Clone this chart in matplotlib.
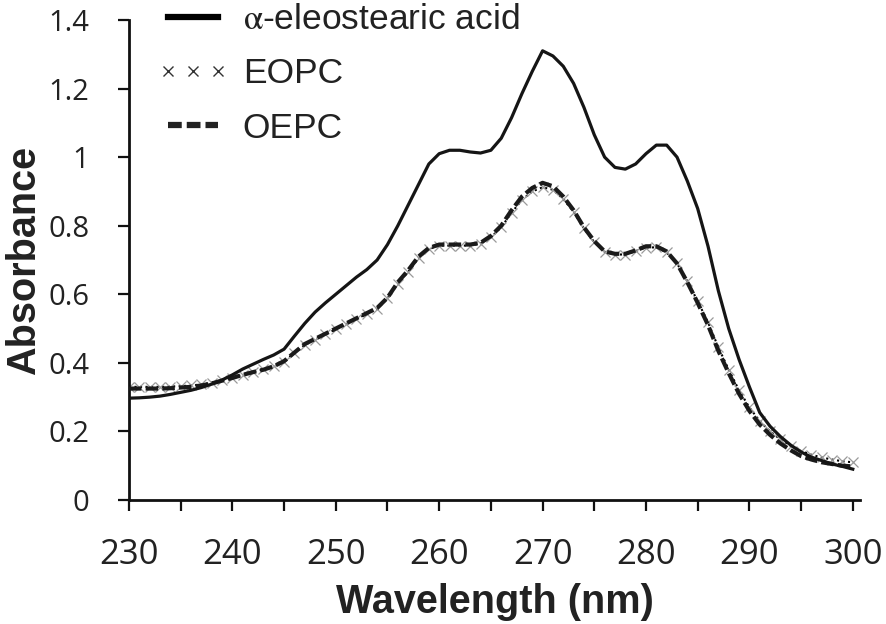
import matplotlib.pyplot as plt
from matplotlib.lines import Line2D

# wavelength (nm), one reading per nm
wavelength = list(range(230, 301))

acid = [0.297, 0.298, 0.300, 0.303, 0.308, 0.314, 0.320, 0.328, 0.338, 0.350,
        0.365, 0.382, 0.396, 0.410, 0.423, 0.440, 0.478, 0.515, 0.548, 0.575,
        0.600, 0.625, 0.650, 0.672, 0.700, 0.745, 0.800, 0.860, 0.920, 0.980,
        1.010, 1.020, 1.020, 1.015, 1.012, 1.020, 1.055, 1.115, 1.185, 1.250,
        1.310, 1.295, 1.265, 1.215, 1.145, 1.065, 1.000, 0.970, 0.965, 0.980,
        1.010, 1.035, 1.035, 1.000, 0.930, 0.850, 0.740, 0.610, 0.500, 0.410,
        0.330, 0.255, 0.215, 0.185, 0.160, 0.140, 0.125, 0.115, 0.105, 0.098,
        0.090]

eopc = [0.330, 0.330, 0.330, 0.330, 0.331, 0.332, 0.334, 0.337, 0.342, 0.349,
        0.357, 0.365, 0.373, 0.381, 0.390, 0.402, 0.430, 0.452, 0.468, 0.483,
        0.498, 0.513, 0.528, 0.543, 0.558, 0.588, 0.630, 0.665, 0.705, 0.732,
        0.742, 0.742, 0.742, 0.742, 0.748, 0.766, 0.795, 0.838, 0.875, 0.900,
        0.912, 0.905, 0.878, 0.840, 0.792, 0.752, 0.724, 0.716, 0.716, 0.726,
        0.736, 0.737, 0.722, 0.690, 0.638, 0.580, 0.518, 0.445, 0.380, 0.320,
        0.270, 0.230, 0.200, 0.177, 0.158, 0.143, 0.132, 0.124, 0.118, 0.113,
        0.110]

oepc = [0.325, 0.325, 0.325, 0.325, 0.326, 0.328, 0.330, 0.334, 0.340, 0.348,
        0.356, 0.365, 0.373, 0.380, 0.390, 0.405, 0.430, 0.455, 0.470, 0.485,
        0.500, 0.515, 0.530, 0.545, 0.560, 0.590, 0.635, 0.670, 0.710, 0.735,
        0.745, 0.745, 0.745, 0.745, 0.750, 0.770, 0.800, 0.845, 0.885, 0.910,
        0.925, 0.915, 0.885, 0.845, 0.795, 0.755, 0.725, 0.718, 0.718, 0.728,
        0.740, 0.740, 0.725, 0.690, 0.635, 0.575, 0.510, 0.435, 0.370, 0.310,
        0.260, 0.220, 0.190, 0.165, 0.145, 0.128, 0.118, 0.110, 0.105, 0.100,
        0.098]

labels = [r"$\mathrm{\alpha}$-eleostearic acid", "EOPC", "OEPC"]

plt.rcParams["mathtext.fontset"] = "stix"

fig = plt.figure(figsize=(8.87, 6.24), dpi=100)
ax = fig.add_axes([0.1454, 0.1987, 0.8242, 0.7693])

# EOPC: thin dotted line with grey crosses
ax.plot(wavelength, eopc, color="black", linestyle=":", linewidth=1.5,
        marker="x", markersize=7, markeredgewidth=0.9,
        markeredgecolor="#9a9a9a", zorder=2)
# OEPC: thick dashed line
ax.plot(wavelength, oepc, color="#1a1a1a", linewidth=3, dashes=(3, 1),
        zorder=3)
# alpha-eleostearic acid: solid line
ax.plot(wavelength, acid, color="#151515", linewidth=2.3, zorder=4)

ax.set_xlim(230, 300.7)
ax.set_ylim(0, 1.4)

ax.set_xticks(range(230, 301, 10))
ax.set_xticks(range(235, 300, 10), minor=True)
ax.set_yticks([0, 0.2, 0.4, 0.6, 0.8, 1.0, 1.2, 1.4])
ax.set_yticklabels(["0", "0.2", "0.4", "0.6", "0.8", "1", "1.2", "1.4"])

for side in ["top", "right"]:
    ax.spines[side].set_visible(False)
for side in ["left", "bottom"]:
    ax.spines[side].set_linewidth(2)
    ax.spines[side].set_color("#111111")

ax.tick_params(axis="both", which="both", direction="out", length=8,
               width=1.6, color="#111111")
ax.tick_params(axis="x", which="major", labelsize=25, pad=19)
ax.tick_params(axis="y", labelsize=21, pad=20.5)
for lab in ax.get_xticklabels() + ax.get_yticklabels():
    lab.set_fontfamily("Open Sans")
    lab.set_color("#222222")

ax.set_xlabel("Wavelength (nm)", fontsize=28.5, fontweight="bold",
              family="Liberation Sans", color="#222222", labelpad=8)
ax.set_ylabel("Absorbance", fontsize=28.5, fontweight="bold",
              family="Liberation Sans", color="#222222", labelpad=4)

handles = [
    Line2D([], [], color="black", linewidth=4.5),
    Line2D([], [], color="#333333", linestyle="none", marker="x",
           markersize=7, markeredgewidth=1),
    Line2D([], [], color="#222222", linewidth=4.5, dashes=(2.2, 0.8)),
]
leg = ax.legend(handles, labels, loc="upper left",
                bbox_to_anchor=(0.039, 1.035), frameon=False, numpoints=3,
                borderpad=0, borderaxespad=0,
                handlelength=2.0, handletextpad=0.41, labelspacing=0.6,
                prop={"family": "Liberation Sans", "size": 25.5})
for t in leg.get_texts():
    t.set_color("#222222")

fig.savefig("out.png", dpi=100)
plt.close(fig)
